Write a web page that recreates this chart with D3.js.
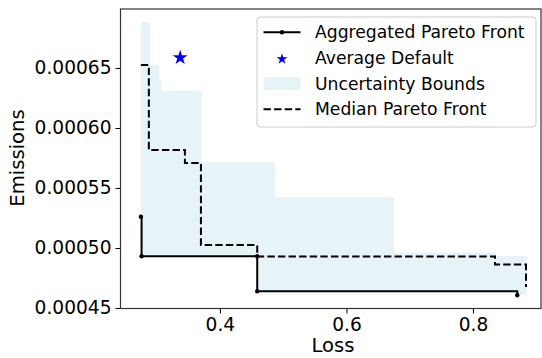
<!DOCTYPE html>
<html>
<head>
<meta charset="utf-8">
<script src="https://cdn.jsdelivr.net/npm/d3@7"></script>
<style>
  body { margin: 0; background: #fff; }
  text { font-family: "DejaVu Sans", sans-serif; fill: #000; }
</style>
</head>
<body>
<script>
// données
const aggLoss = [0.2751, 0.2762, 0.4590, 0.4590, 0.8700]
const aggEmissions = [0.000526, 0.0004931, 0.0004931, 0.0004639, 0.0004606]

const medianLoss = [0.2751, 0.2877, 0.3447, 0.3700, 0.4590, 0.8348, 0.8838]
const medianEmissions = [0.0006525, 0.0005817, 0.0005708, 0.0005025, 0.0004929, 0.0004863, 0.0004675]

// bornes d'incertitude (marches : chaque valeur vaut de bandEdges[i] à bandEdges[i+1])
const bandEdges = [0.2751, 0.2893, 0.3040, 0.3072, 0.3711, 0.4590, 0.4870, 0.6751, 0.8364, 0.8700, 0.8849]
const bandUpper = [0.0006883, 0.0006525, 0.000640, 0.0006311, 0.0005714, 0.0005714, 0.0005423, 0.0004961, 0.0004933, 0.0004933]
const bandLower = [0.0004931, 0.0004931, 0.0004931, 0.0004931, 0.0004931, 0.0004639, 0.0004639, 0.0004639, 0.0004639, 0.0004608]

const defaultLoss = 0.3372
const defaultEmissions = 0.0006586

const xTicks = [0.4, 0.6, 0.8]
const yTicks = [0.00045, 0.0005, 0.00055, 0.0006, 0.00065]

const legendLabels = ["Aggregated Pareto Front", "Average Default", "Uncertainty Bounds", "Median Pareto Front"]

const width = 542, height = 358
const margin = { left: 120.5, right: 1, top: 9, bottom: 49.5 }

const svg = d3.select("body")
    .append("svg")
    .attr("width", width)
    .attr("height", height)

const x = d3.scaleLinear()
    .domain([0.2429, 0.9075])
    .range([margin.left, width - margin.right])

const y = d3.scaleLinear()
    .domain([0.00045, 0.00065])
    .range([308, 68])

// zone d'incertitude
const bandData = bandEdges.map((e, i) => {
    const k = Math.min(i, bandUpper.length - 1)
    return { x: e, lo: bandLower[k], hi: bandUpper[k] }
})

svg.append("path")
    .datum(bandData)
    .attr("fill", "lightblue")
    .attr("fill-opacity", 0.3)
    .attr("d", d3.area()
        .curve(d3.curveStepAfter)
        .x(d => x(d.x))
        .y0(d => y(d.lo))
        .y1(d => y(d.hi)))

// front médian (pointillés)
const medianData = medianLoss.map((l, i) => [l, medianEmissions[i]])
svg.append("path")
    .datum(medianData)
    .attr("fill", "none")
    .attr("stroke", "#000")
    .attr("stroke-width", 2)
    .attr("stroke-dasharray", "7.4,3.2")
    .attr("d", d3.line()
        .curve(d3.curveStepAfter)
        .x(d => x(d[0]))
        .y(d => y(d[1])))

// front agrégé
const aggData = aggLoss.map((l, i) => [l, aggEmissions[i]])
svg.append("path")
    .datum(aggData)
    .attr("fill", "none")
    .attr("stroke", "#000")
    .attr("stroke-width", 2)
    .attr("d", d3.line()
        .curve(d3.curveStepAfter)
        .x(d => x(d[0]))
        .y(d => y(d[1])))

svg.selectAll(".agg-pt")
    .data(aggData)
    .enter()
    .append("circle")
    .attr("class", "agg-pt")
    .attr("cx", d => x(d[0]))
    .attr("cy", d => y(d[1]))
    .attr("r", 2.2)
    .attr("fill", "#000")

// étoile du défaut moyen
const star = d3.symbol().type(d3.symbolStar).size(70)
const smallStar = d3.symbol().type(d3.symbolStar).size(38)
svg.append("path")
    .attr("d", star())
    .attr("transform", `translate(${x(defaultLoss)},${y(defaultEmissions)})`)
    .attr("fill", "#0000ff")

// axes
svg.append("g")
    .attr("transform", `translate(0,${height - margin.bottom})`)
    .call(d3.axisBottom(x).tickValues(xTicks).tickSize(5).tickPadding(4).tickFormat(d3.format(".1f")))

svg.append("g")
    .attr("transform", `translate(${margin.left},0)`)
    .call(d3.axisLeft(y).tickValues(yTicks).tickSize(5).tickPadding(4).tickFormat(d3.format(".5f")))

svg.selectAll(".tick text").style("font-size", "18.6px").attr("fill", "#000")
svg.selectAll(".tick line").attr("stroke", "#000")
svg.selectAll(".domain").remove()

// cadre
svg.append("rect")
    .attr("x", margin.left)
    .attr("y", margin.top)
    .attr("width", width - margin.right - margin.left)
    .attr("height", height - margin.bottom - margin.top)
    .attr("fill", "none")
    .attr("stroke", "#333")
    .attr("stroke-width", 1.2)

// titres des axes
svg.append("text")
    .attr("x", 333)
    .attr("y", 352)
    .attr("text-anchor", "middle")
    .style("font-size", "19.6px")
    .text("Loss")

svg.append("text")
    .attr("transform", "translate(24,158) rotate(-90)")
    .attr("text-anchor", "middle")
    .style("font-size", "19.6px")
    .text("Emissions")

// légende
const legend = svg.append("g")
legend.append("rect")
    .attr("x", 257)
    .attr("y", 17)
    .attr("width", 279)
    .attr("height", 110)
    .attr("rx", 3)
    .attr("fill", "#fff")
    .attr("fill-opacity", 0.8)
    .attr("stroke", "#ccc")

const rowY = [32.3, 58, 83.6, 109.2]
const hx0 = 263.5, hx1 = 300.5

legend.append("line")
    .attr("x1", hx0).attr("x2", hx1)
    .attr("y1", rowY[0]).attr("y2", rowY[0])
    .attr("stroke", "#000").attr("stroke-width", 2)
legend.append("circle")
    .attr("cx", (hx0 + hx1) / 2).attr("cy", rowY[0]).attr("r", 2.2).attr("fill", "#000")

legend.append("path")
    .attr("d", smallStar())
    .attr("transform", `translate(${(hx0 + hx1) / 2},${rowY[1] + 1})`)
    .attr("fill", "#0000ff")

legend.append("rect")
    .attr("x", hx0).attr("y", rowY[2] - 6.5)
    .attr("width", hx1 - hx0).attr("height", 13)
    .attr("fill", "lightblue").attr("fill-opacity", 0.3)

legend.append("line")
    .attr("x1", hx0).attr("x2", hx1)
    .attr("y1", rowY[3]).attr("y2", rowY[3])
    .attr("stroke", "#000").attr("stroke-width", 2)
    .attr("stroke-dasharray", "7.4,3.2")

legend.selectAll(".lab")
    .data(legendLabels)
    .enter()
    .append("text")
    .attr("class", "lab")
    .attr("x", 315)
    .attr("y", (d, i) => rowY[i])
    .attr("dy", "0.36em")
    .style("font-size", "17.2px")
    .text(d => d)
</script>
</body>
</html>
